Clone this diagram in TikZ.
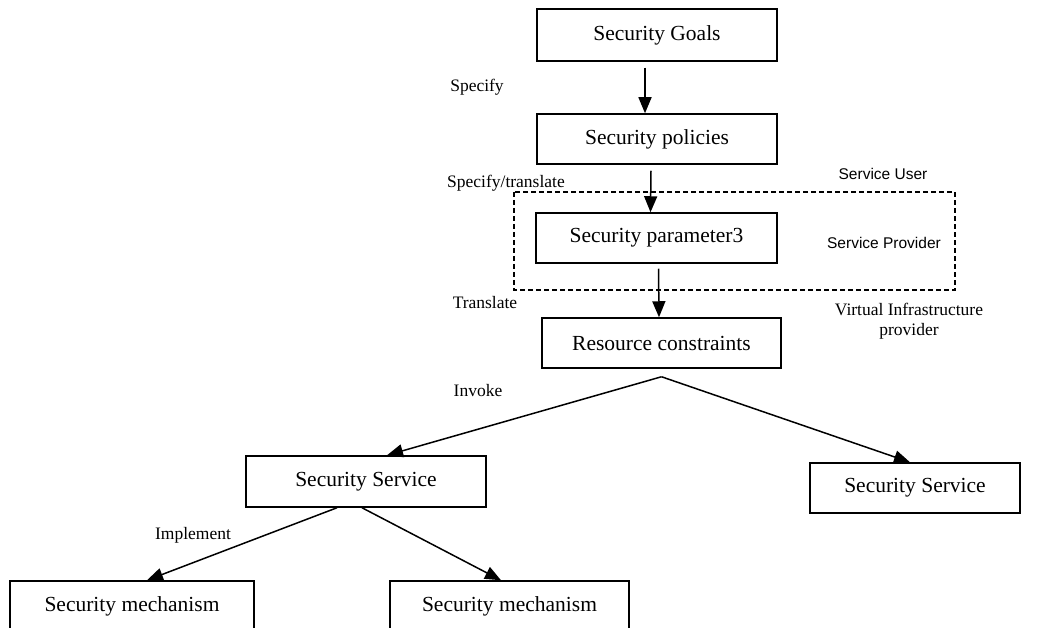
\documentclass[tikz,border=0pt]{standalone}
\usepackage{fontspec}
\setmainfont{Liberation Serif}
\setsansfont{Liberation Sans}
\usetikzlibrary{arrows.meta}
\tikzset{
  box/.style={draw,line width=1.5pt,inner sep=0pt,minimum height=50pt,font=\fontsize{21.5}{24}\selectfont},
  lbl/.style={inner sep=0pt,font=\fontsize{17.5}{20}\selectfont},
  role/.style={inner sep=0pt,font=\sffamily\fontsize{15.5}{18}\selectfont},
  arr/.style={line width=1.5pt,-{Triangle[length=16pt,width=13pt]}}
}
\begin{document}
\begin{tikzpicture}[x=1pt,y=-1pt]
\useasboundingbox (0,0) rectangle (1044,628);
\node[box,minimum width=240pt,minimum height=52pt] (goals) at (657,35) {Security Goals};
\node[box,minimum width=240pt] (pol) at (657,139) {Security policies};
\node[box,minimum width=241pt] (par) at (656.5,238) {Security parameter3};
\node[box,minimum width=239pt] (res) at (661.5,343) {Resource constraints};
\node[box,minimum width=240pt,minimum height=51pt] (lss) at (366,481.5) {Security Service};
\node[box,minimum width=210pt] (rss) at (915,488) {Security Service};
\node[box,minimum width=244pt] (lm) at (132,606) {Security mechanism};
\node[box,minimum width=239pt] (rm) at (509.5,606) {Security mechanism};
\draw[dashed,line width=1.3pt,dash pattern=on 5pt off 3pt] (514,192) rectangle (955,290);
\node[lbl] (spec) at (477,87) {Specify};
\node[lbl] (spectr) at (506,183) {Specify/translate};
\node[lbl] (trans) at (485,303) {Translate};
\node[lbl] (inv) at (478,391) {Invoke};
\node[lbl] (impl) at (193,535) {Implement};
\node[role] (suser) at (883,174) {Service User};
\node[role] (sprov) at (884,243) {Service Provider};
\node[lbl,align=center,font=\fontsize{17.5}{20}\selectfont] (vip) at (909,321) {Virtual Infrastructure\\provider};
\coordinate (fork) at ([yshift=-8pt]res.south);
\draw[arr] ([xshift=-12pt,yshift=-6pt]goals.south) -- ([xshift=-12pt]pol.north);
\draw[arr] ([xshift=-6pt,yshift=-6pt]pol.south) -- ([xshift=-6pt]par.north);
\draw[arr] ([xshift=2pt,yshift=-5pt]par.south) -- ([xshift=-2.5pt]res.north);
\draw[arr] (fork) -- ([xshift=21pt]lss.north);
\draw[arr] (fork) -- ([xshift=-5pt]rss.north);
\draw[arr] ([xshift=-29pt]lss.south) -- ([xshift=15pt]lm.north);
\draw[arr] ([xshift=-4pt]lss.south) -- ([xshift=-8.5pt]rm.north);
\end{tikzpicture}
\end{document}
